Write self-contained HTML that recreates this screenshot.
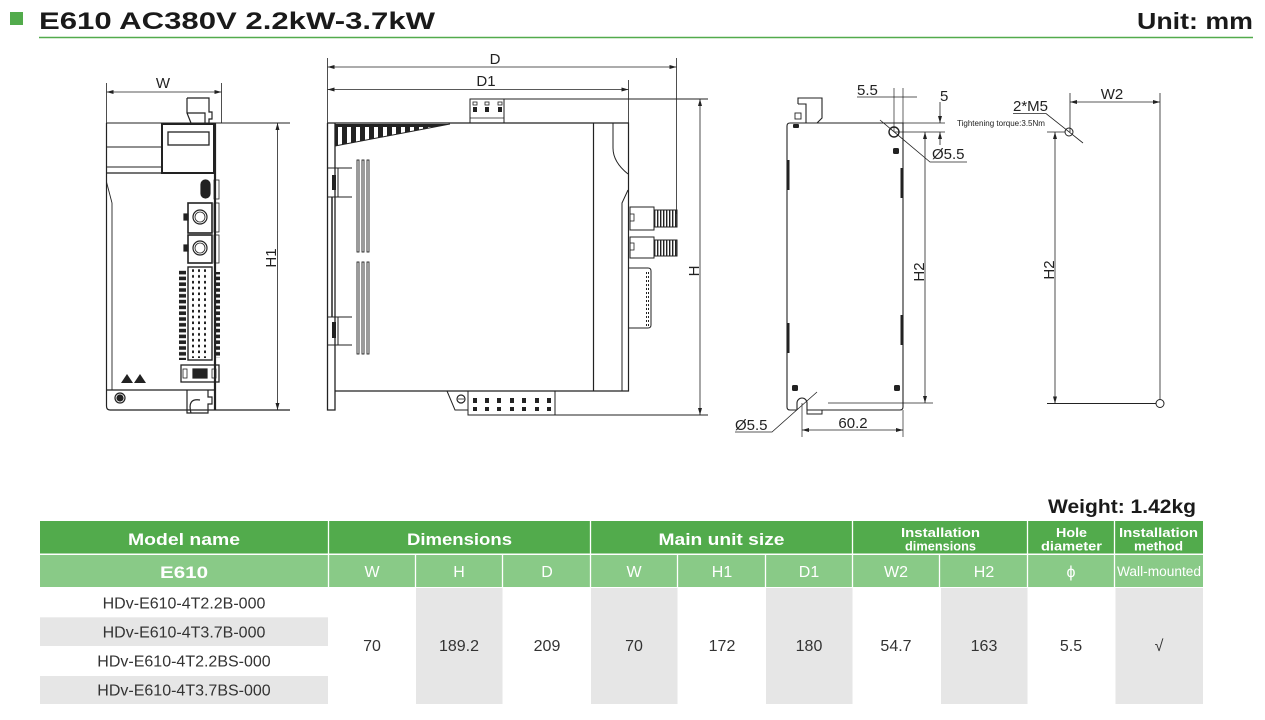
<!DOCTYPE html>
<html>
<head>
<meta charset="utf-8">
<style>
html,body{margin:0;padding:0;background:#fff;}
svg{display:block;}
text{font-family:"Liberation Sans",sans-serif;}
</style>
</head>
<body>
<svg width="1265" height="720" viewBox="0 0 1265 720" xmlns="http://www.w3.org/2000/svg">
<defs>
<marker id="a" viewBox="0 0 7 4" refX="7" refY="2" markerWidth="7" markerHeight="4" orient="auto-start-reverse" markerUnits="userSpaceOnUse"><path d="M0,0 L7,2 L0,4 z" fill="#222"/></marker>
<pattern id="lbl" x="0" y="270" width="8" height="5.8" patternUnits="userSpaceOnUse"><rect x="0" y="0.8" width="8" height="3.6" fill="#222"/></pattern>
<pattern id="tb" x="190" y="268" width="6" height="5.8" patternUnits="userSpaceOnUse"><rect x="2" y="1.3" width="2" height="2.6" fill="#222"/></pattern>
<pattern id="fin" x="335" y="124" width="9" height="30" patternUnits="userSpaceOnUse"><rect x="0" y="0" width="9" height="30" fill="#222"/><rect x="3" y="3" width="4" height="30" fill="#fff"/></pattern>
<pattern id="rib" x="654" y="0" width="3" height="10" patternUnits="userSpaceOnUse"><rect x="0" y="0" width="1.4" height="10" fill="#222"/></pattern>
<pattern id="dot" x="0" y="268" width="4" height="4" patternUnits="userSpaceOnUse"><rect x="0" y="0" width="3" height="2" fill="#222"/></pattern>
</defs>

<!-- Title -->
<rect x="10" y="12" width="13" height="13" fill="#52ab4c"/>
<text x="39" y="29" font-size="24" font-weight="bold" fill="#1a1a1a" textLength="396" lengthAdjust="spacingAndGlyphs">E610  AC380V  2.2kW-3.7kW</text>
<text x="1137" y="29" font-size="23" font-weight="bold" fill="#1a1a1a" textLength="116" lengthAdjust="spacingAndGlyphs">Unit:  mm</text>
<line x1="39" y1="37.5" x2="1253" y2="37.5" stroke="#52ab4c" stroke-width="1.5"/>

<g fill="none" stroke="#222" stroke-width="1.2">
<!-- ============ FRONT VIEW ============ -->
<!-- W dimension -->
<line x1="106.5" y1="83" x2="106.5" y2="123" stroke-width="0.8"/>
<line x1="221.5" y1="83" x2="221.5" y2="123" stroke-width="0.8"/>
<line x1="106.5" y1="92" x2="221.5" y2="92" stroke-width="0.8" marker-start="url(#a)" marker-end="url(#a)"/>
<!-- top connector -->
<path d="M187,98 H209 V112 H212 V119 H209 V123 M187,98 V113 L191,123 M187,113 H205 V123"/>
<!-- body -->
<path d="M106.5,123 H290" stroke-width="1"/>
<path d="M106.5,123 V406 Q106.5,410 110,410 H290" stroke-width="1.2"/>
<line x1="215" y1="123" x2="215" y2="410" stroke-width="2.2"/>
<line x1="106.5" y1="173" x2="215" y2="173"/>
<line x1="106.5" y1="147" x2="162" y2="147" stroke-width="0.9"/>
<line x1="106.5" y1="167" x2="162" y2="167" stroke-width="0.9"/>
<rect x="162" y="124" width="52" height="49" stroke-width="2"/>
<rect x="168" y="132" width="41" height="13" stroke-width="1.3"/>
<line x1="106.5" y1="182" x2="112" y2="203" stroke-width="0.9"/>
<line x1="112" y1="203" x2="112" y2="390" stroke-width="0.9"/>
<line x1="106.5" y1="390" x2="215" y2="390"/>
<!-- CN1 -->
<rect x="201" y="180" width="9" height="18" rx="4.5" fill="#222"/>
<rect x="214" y="180" width="5" height="19" stroke-width="0.8"/>
<!-- CN2 / CN3 -->
<rect x="188" y="203" width="24" height="30" stroke-width="1.6"/>
<circle cx="200" cy="217" r="7"/><circle cx="200" cy="217" r="5" stroke-width="0.8"/>
<rect x="184" y="214" width="4" height="6" fill="#222"/>
<rect x="214" y="203" width="5" height="29" stroke-width="0.8"/>
<rect x="188" y="235" width="24" height="28" stroke-width="1.6"/>
<circle cx="200" cy="248" r="7"/><circle cx="200" cy="248" r="5" stroke-width="0.8"/>
<rect x="184" y="245" width="4" height="6" fill="#222"/>
<rect x="214" y="235" width="5" height="28" stroke-width="0.8"/>
<!-- terminal block -->
<rect x="188" y="267" width="24" height="93" stroke-width="1.4"/>
<rect x="190" y="268" width="20" height="90" fill="url(#tb)" stroke="none"/>
<rect x="179" y="270" width="7" height="90" fill="url(#lbl)" stroke="none"/>
<rect x="214" y="272" width="6" height="86" fill="url(#lbl)" stroke="none"/>
<!-- bottom connector -->
<rect x="181" y="365" width="38" height="17" stroke-width="1.3"/>
<rect x="193" y="369" width="14" height="9" fill="#222"/>
<rect x="183" y="369" width="4" height="9" stroke-width="0.8"/>
<rect x="212" y="369" width="4" height="9" stroke-width="0.8"/>
<!-- warning triangles -->
<polygon points="121,383 127,374 133,383" fill="#222" stroke="none"/>
<polygon points="134,383 140,374 146,383" fill="#222" stroke="none"/>
<circle cx="120" cy="398" r="5"/><circle cx="120" cy="398" r="3" fill="#222"/>
<!-- bottom clip -->
<path d="M187,390 V413 H208 V404 H212 V397 H208 V390 M191,413 Q187,398 200,400"/>
<!-- H1 -->
<line x1="277.5" y1="123" x2="277.5" y2="410" stroke-width="0.8" marker-start="url(#a)" marker-end="url(#a)"/>

<!-- ============ SIDE VIEW ============ -->
<line x1="327.5" y1="58" x2="327.5" y2="123" stroke-width="0.8"/>
<line x1="676.5" y1="58" x2="676.5" y2="214" stroke-width="0.8"/>
<line x1="628.5" y1="80" x2="628.5" y2="123" stroke-width="0.8"/>
<line x1="327.5" y1="67" x2="676.5" y2="67" stroke-width="0.8" marker-start="url(#a)" marker-end="url(#a)"/>
<line x1="327.5" y1="89.5" x2="628.5" y2="89.5" stroke-width="0.8" marker-start="url(#a)" marker-end="url(#a)"/>
<line x1="470" y1="99" x2="708" y2="99" stroke-width="0.9"/>
<rect x="470" y="99" width="34" height="24" stroke-width="1"/>
<line x1="470" y1="118" x2="504" y2="118" stroke-width="0.7"/>
<rect x="473" y="102" width="4" height="3" stroke-width="0.8"/><rect x="473" y="107" width="4" height="5" fill="#222" stroke="none"/>
<rect x="485" y="102" width="4" height="3" stroke-width="0.8"/><rect x="485" y="107" width="4" height="5" fill="#222" stroke="none"/>
<rect x="498" y="102" width="4" height="3" stroke-width="0.8"/><rect x="498" y="107" width="4" height="5" fill="#222" stroke="none"/>
<!-- body -->
<path d="M327.5,123 H628.5 V391 H335"/>
<path d="M327.5,123 V410 H335 V123" stroke-width="1.3"/>
<polygon points="335,124 450,124 335,146" fill="url(#fin)" stroke="none"/>
<line x1="335" y1="146" x2="450" y2="124" stroke-width="1"/>
<!-- vent slots -->
<g stroke-width="0.9">
<rect x="357" y="160" width="2" height="92"/><rect x="362" y="160" width="2" height="92"/><rect x="367" y="160" width="2" height="92"/>
<rect x="357" y="262" width="2" height="92"/><rect x="362" y="262" width="2" height="92"/><rect x="367" y="262" width="2" height="92"/>
</g>
<!-- clips -->
<path d="M327.5,168 H352 M327.5,197 H352 M338,168 V197" stroke-width="1"/>
<rect x="332" y="175" width="4" height="15" fill="#222" stroke="none"/>
<path d="M327.5,317 H352 M327.5,345 H352 M338,317 V345" stroke-width="1"/>
<rect x="332" y="322" width="4" height="16" fill="#222" stroke="none"/>
<line x1="332" y1="197" x2="332" y2="317" stroke-width="1.5"/>
<!-- right portion -->
<line x1="593.5" y1="123" x2="593.5" y2="391"/>
<path d="M613,123 V148 Q613,162 628,174 M628,190 L622,203 V391" stroke-width="1"/>
<rect x="630" y="207" width="24" height="23" stroke-width="1"/>
<rect x="654" y="210" width="23" height="17" fill="url(#rib)" stroke-width="1"/>
<rect x="630" y="214" width="4" height="7" stroke-width="0.8"/>
<rect x="630" y="237" width="24" height="21" stroke-width="1"/>
<rect x="654" y="240" width="23" height="16" fill="url(#rib)" stroke-width="1"/>
<rect x="630" y="243" width="4" height="7" stroke-width="0.8"/>
<path d="M629,268 H648 Q651,268 651,271 V325 Q651,328 648,328 H629" stroke-width="1"/>
<rect x="646" y="270" width="3" height="56" fill="url(#dot)" stroke="none"/>
<!-- bottom terminal -->
<path d="M447,391 L455,410 H468 V391" stroke-width="1"/>
<circle cx="461" cy="399" r="4"/>
<line x1="458" y1="399" x2="464" y2="399" stroke-width="0.8"/>
<rect x="468" y="391" width="87" height="24" stroke-width="1"/>
<g fill="#222" stroke="none">
<rect x="473" y="398" width="4" height="5"/><rect x="473" y="407" width="4" height="4"/>
<rect x="485" y="398" width="4" height="5"/><rect x="485" y="407" width="4" height="4"/>
<rect x="497" y="398" width="4" height="5"/><rect x="497" y="407" width="4" height="4"/>
<rect x="510" y="398" width="4" height="5"/><rect x="510" y="407" width="4" height="4"/>
<rect x="522" y="398" width="4" height="5"/><rect x="522" y="407" width="4" height="4"/>
<rect x="535" y="398" width="4" height="5"/><rect x="535" y="407" width="4" height="4"/>
<rect x="547" y="398" width="4" height="5"/><rect x="547" y="407" width="4" height="4"/>
</g>
<!-- H dim -->
<line x1="555" y1="415" x2="708" y2="415" stroke-width="0.9"/>
<line x1="700" y1="99" x2="700" y2="415" stroke-width="0.8" marker-start="url(#a)" marker-end="url(#a)"/>

<!-- ============ BACK VIEW ============ -->
<path d="M790,123 H903 V407 Q903,410 900,410 H807 M797,410 H790 Q787,410 787,407 V126 Q787,123 790,123" stroke-width="1.1"/>
<path d="M797,410 V403 A5,5 0 0 1 807,403 V410" stroke-width="1.1"/>
<path d="M807,410 V414 H822 V410" stroke-width="1"/>
<path d="M798,104 V98 H822 V118 L817,123 M798,104 H806 V123" stroke-width="1.1"/>
<rect x="795" y="113" width="6" height="6" stroke-width="0.9"/>
<circle cx="894" cy="132" r="5" stroke-width="1.4"/>
<g fill="#222" stroke="none">
<rect x="793" y="124" width="6" height="4" rx="1"/>
<rect x="893" y="148" width="6" height="6" rx="1.5"/>
<rect x="792" y="385" width="6" height="6" rx="1.5"/>
<rect x="894" y="385" width="6" height="6" rx="1.5"/>
<rect x="786.5" y="160" width="3" height="30"/>
<rect x="786.5" y="323" width="3" height="30"/>
<rect x="900.5" y="168" width="3" height="30"/>
<rect x="900.5" y="315" width="3" height="30"/>
</g>
<!-- 5.5 dim -->
<line x1="857" y1="97" x2="917" y2="97" stroke-width="0.8"/>
<line x1="894" y1="88" x2="894" y2="132" stroke-width="0.7"/>
<line x1="903" y1="88" x2="903" y2="123" stroke-width="0.7"/>
<!-- 5 dim -->
<line x1="903" y1="123" x2="945" y2="123" stroke-width="0.7"/>
<line x1="894" y1="132" x2="945" y2="132" stroke-width="0.7"/>
<line x1="940" y1="102" x2="940" y2="123" stroke-width="0.8" marker-end="url(#a)"/>
<line x1="940" y1="145" x2="940" y2="132" stroke-width="0.8" marker-end="url(#a)"/>
<!-- Ø5.5 leader top -->
<path d="M880,120 L930,162 H967" stroke-width="0.8"/>
<!-- H2 -->
<line x1="925" y1="132" x2="925" y2="403" stroke-width="0.8" marker-start="url(#a)" marker-end="url(#a)"/>
<line x1="828" y1="403" x2="933" y2="403" stroke-width="0.8"/>
<!-- 60.2 -->
<line x1="802" y1="403" x2="802" y2="437" stroke-width="0.7"/>
<line x1="903" y1="410" x2="903" y2="437" stroke-width="0.7"/>
<line x1="802" y1="430" x2="903" y2="430" stroke-width="0.8" marker-start="url(#a)" marker-end="url(#a)"/>
<!-- Ø5.5 bottom -->
<path d="M735,432 H772 L817,392" stroke-width="0.8"/>

<!-- ============ MOUNT VIEW ============ -->
<line x1="1070" y1="93" x2="1070" y2="132" stroke-width="0.8"/>
<line x1="1160" y1="93" x2="1160" y2="399" stroke-width="0.8"/>
<line x1="1070" y1="102" x2="1160" y2="102" stroke-width="0.8" marker-start="url(#a)" marker-end="url(#a)"/>
<circle cx="1069" cy="132" r="4" stroke-width="1"/>
<circle cx="1160" cy="403.5" r="4" stroke-width="1"/>
<path d="M1013,113.5 H1046 L1083,143" stroke-width="0.8"/>
<line x1="1047" y1="132" x2="1065" y2="132" stroke-width="0.8"/>
<line x1="1047" y1="403.5" x2="1156" y2="403.5" stroke-width="0.9"/>
<line x1="1055" y1="132" x2="1055" y2="403.5" stroke-width="0.8" marker-start="url(#a)" marker-end="url(#a)"/>
</g>

<!-- Drawing labels -->
<g font-size="15" fill="#222">
<text x="163" y="88" text-anchor="middle">W</text>
<text transform="translate(276,258) rotate(-90)" text-anchor="middle">H1</text>
<text x="495" y="64" text-anchor="middle">D</text>
<text x="486" y="86" text-anchor="middle">D1</text>
<text transform="translate(699,271) rotate(-90)" text-anchor="middle">H</text>
<text x="857" y="95">5.5</text>
<text x="940" y="101">5</text>
<text x="932" y="159">Ø5.5</text>
<text transform="translate(924,272) rotate(-90)" text-anchor="middle">H2</text>
<text x="853" y="428" text-anchor="middle">60.2</text>
<text x="735" y="430">Ø5.5</text>
<text x="1112" y="99" text-anchor="middle">W2</text>
<text x="1013" y="111">2*M5</text>
<text transform="translate(1054,270) rotate(-90)" text-anchor="middle">H2</text>
</g>
<text x="957" y="126" font-size="8" fill="#222" textLength="88" lengthAdjust="spacingAndGlyphs">Tightening torque:3.5Nm</text>

<!-- ============ TABLE ============ -->
<text x="1196" y="513" font-size="19" font-weight="bold" fill="#1a1a1a" text-anchor="end" textLength="148" lengthAdjust="spacingAndGlyphs">Weight:  1.42kg</text>

<rect x="40" y="521" width="1163" height="32.5" fill="#52ab4c"/>
<rect x="40" y="555" width="1163" height="32" fill="#89ca87"/>
<g stroke="#fff" stroke-width="1.3">
<line x1="328.5" y1="521" x2="328.5" y2="587"/>
<line x1="590.5" y1="521" x2="590.5" y2="587"/>
<line x1="852.5" y1="521" x2="852.5" y2="587"/>
<line x1="1027.5" y1="521" x2="1027.5" y2="587"/>
<line x1="1114.5" y1="521" x2="1114.5" y2="587"/>
<line x1="415.5" y1="555" x2="415.5" y2="587"/>
<line x1="502.5" y1="555" x2="502.5" y2="587"/>
<line x1="677.5" y1="555" x2="677.5" y2="587"/>
<line x1="765.5" y1="555" x2="765.5" y2="587"/>
<line x1="939.5" y1="555" x2="939.5" y2="587"/>
</g>

<g fill="#e6e6e6">
<rect x="40" y="617.3" width="288" height="28.7"/>
<rect x="40" y="676" width="288" height="28"/>
<rect x="416" y="588" width="86.5" height="116"/>
<rect x="591" y="588" width="86.5" height="116"/>
<rect x="766" y="588" width="86.5" height="116"/>
<rect x="941" y="588" width="86.5" height="116"/>
<rect x="1115.5" y="588" width="87.5" height="116"/>
</g>

<g fill="#fff" font-weight="bold" text-anchor="middle">
<text x="184" y="545" font-size="17" textLength="112" lengthAdjust="spacingAndGlyphs">Model name</text>
<text x="459.5" y="545" font-size="17" textLength="105" lengthAdjust="spacingAndGlyphs">Dimensions</text>
<text x="721.5" y="545" font-size="17" textLength="126" lengthAdjust="spacingAndGlyphs">Main unit size</text>
<text x="940.5" y="537" font-size="13" textLength="79" lengthAdjust="spacingAndGlyphs">Installation</text>
<text x="940.5" y="550.5" font-size="13" textLength="71" lengthAdjust="spacingAndGlyphs">dimensions</text>
<text x="1071.5" y="537" font-size="13" textLength="31" lengthAdjust="spacingAndGlyphs">Hole</text>
<text x="1071.5" y="550.5" font-size="13" textLength="61" lengthAdjust="spacingAndGlyphs">diameter</text>
<text x="1158.5" y="537" font-size="13" textLength="79" lengthAdjust="spacingAndGlyphs">Installation</text>
<text x="1158.5" y="550.5" font-size="13" textLength="49" lengthAdjust="spacingAndGlyphs">method</text>
<text x="184" y="578" font-size="17" textLength="48" lengthAdjust="spacingAndGlyphs">E610</text>
</g>
<g fill="#fff" font-size="16" text-anchor="middle">
<text x="372" y="577">W</text>
<text x="459" y="577">H</text>
<text x="547" y="577">D</text>
<text x="634" y="577">W</text>
<text x="722" y="577">H1</text>
<text x="809" y="577">D1</text>
<text x="896" y="577">W2</text>
<text x="984" y="577">H2</text>
<text x="1071" y="577">ϕ</text>
<text x="1159" y="576" font-size="13.5" textLength="84" lengthAdjust="spacingAndGlyphs">Wall-mounted</text>
</g>

<g fill="#333" font-size="16" text-anchor="middle">
<text x="184" y="608.5">HDv-E610-4T2.2B-000</text>
<text x="184" y="637.5">HDv-E610-4T3.7B-000</text>
<text x="184" y="666.5">HDv-E610-4T2.2BS-000</text>
<text x="184" y="695.5">HDv-E610-4T3.7BS-000</text>
<text x="372" y="651">70</text>
<text x="459" y="651">189.2</text>
<text x="547" y="651">209</text>
<text x="634" y="651">70</text>
<text x="722" y="651">172</text>
<text x="809" y="651">180</text>
<text x="896" y="651">54.7</text>
<text x="984" y="651">163</text>
<text x="1071" y="651">5.5</text>
<text x="1159" y="651">√</text>
</g>
</svg>
</body>
</html>
